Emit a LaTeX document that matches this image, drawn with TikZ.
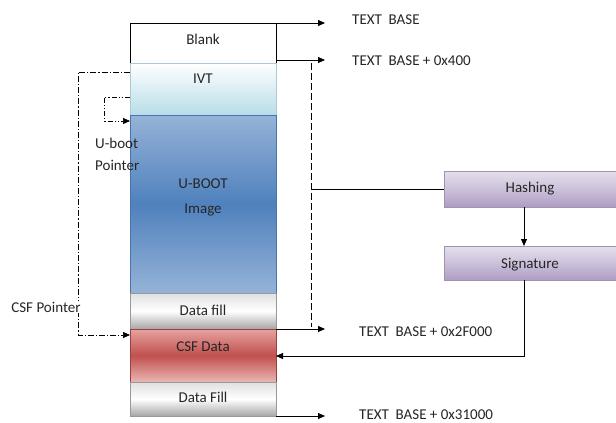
\documentclass[tikz,border=0pt]{standalone}
\usepackage{fontspec}
\setmainfont{Carlito}
\usetikzlibrary{arrows.meta}
\definecolor{txt}{HTML}{262626}
\definecolor{ivtb}{HTML}{B7DDE8}
\definecolor{bluel}{HTML}{95B3D7}
\definecolor{blued}{HTML}{4F81BD}
\definecolor{redl}{HTML}{E6A3A1}
\definecolor{redd}{HTML}{C0504D}
\definecolor{purl}{HTML}{E4DFEC}
\definecolor{purm}{HTML}{CCC1DA}
\definecolor{purd}{HTML}{AE9CC4}
\begin{document}
\begin{tikzpicture}[x=1pt,y=-1pt,
  font=\fontsize{15}{17}\selectfont, text=txt,
  blk/.style={draw=#1, line width=0.8pt, minimum width=146pt, inner sep=0pt, outer sep=0pt, anchor=north west},
  lab/.style={inner sep=0pt, anchor=base},
  prc/.style={draw=purd!70!gray, line width=0.6pt, top color=purl, bottom color=purd, middle color=purm, minimum width=172pt, inner sep=0pt, outer sep=0pt, anchor=north west},
  grayfill/.style={top color=gray!25, bottom color=gray!70, middle color=white},
  conn/.style={line width=0.8pt, draw=black},
  tip/.style={-{Triangle[length=7pt,width=6pt]}},
  addr/.style={inner sep=0pt, anchor=west}
]
\useasboundingbox (0,0) rectangle (616,423);
\fill[white] (0,0) rectangle (616,423);

% memory stack
\node[blk=black, fill=white, minimum height=40pt] (blank) at (130,23) {};
\node[blk=ivtb!80!gray, top color=white, bottom color=ivtb, minimum height=52pt] (ivt) at (130,63) {};
\node[blk=blued!90!black, top color=bluel, bottom color=bluel, middle color=blued, minimum height=178pt] (uboot) at (130,115) {};
\node[blk=gray!80, grayfill, minimum height=36pt] (dfill) at (130,293) {};
\node[blk=redd!80!black, top color=redl, bottom color=redl!80!white, middle color=redd, minimum height=53pt] (csf) at (130,329) {};
\node[blk=gray!80, grayfill, minimum height=34pt] (dfill2) at (130,382) {};

\node[lab] at (203,44) {Blank};
\node[lab] at (203,83) {IVT};
\node[lab] at (203,188) {U-BOOT};
\node[lab] at (203,213) {Image};
\node[lab] at (203,315) {Data fill};
\node[lab] at (203,351) {CSF Data};
\node[lab] at (203,402) {Data Fill};

% process boxes
\node[prc, minimum height=36pt] (hash) at (444,171) {};
\node[prc, minimum height=34pt] (sig) at (444,246) {};
\node[lab] at (530,192) {Hashing};
\node[lab] at (530,268) {Signature};

% address arrows
\coordinate (a1) at (325,23);
\coordinate (a2) at (325,60);
\coordinate (a3) at (325,329);
\coordinate (a4) at (325,416);
\draw[conn,tip] (blank.north east) -- (a1);
\draw[conn,tip] (blank.north east) -- (276,60) -- (a2);
\draw[conn,tip] (dfill.south east) -- (a3);
\draw[conn,tip] (dfill2.south east) -- (a4);
\node[addr] (t1) at (352,20) {TEXT\ \ BASE};
\node[addr] (t2) at (352,61) {TEXT\ \ BASE + 0x400};
\node[addr] (t3) at (359,332) {TEXT\ \ BASE + 0x2F000};
\node[addr] (t4) at (359,415) {TEXT\ \ BASE + 0x31000};

% hashing region
\coordinate (d1) at (311,63);
\coordinate (d2) at (311,327);
\coordinate (dh) at (311,189);
\draw[conn, dash pattern=on 7pt off 3pt] (d1) -- (d2);
\draw[conn] (dh) -- (hash.west);
\coordinate (hb) at (524,207);
\coordinate (st) at (524,246);
\draw[conn,tip] (hb) -- (st);
\coordinate (sb) at (524,280);
\draw[conn,tip] (sb) -- (524,356) -- (csf.east |- 0,356);

% left pointers
\coordinate (c1) at (130,72);
\coordinate (c2) at (130,335);
\draw[conn, line width=0.7pt, dash pattern=on 6pt off 2pt on 1.2pt off 2pt, tip] (c1) -- (78,72) -- (78,335) -- (c2);
\node[fill=white, inner sep=1pt] (csfp) at (46,307) {CSF Pointer};

\coordinate (u1) at (130,97);
\coordinate (u2) at (130,121);
\draw[conn, line width=0.7pt, dash pattern=on 5pt off 2pt on 1.2pt off 2pt on 1.2pt off 2pt, tip] (u1) -- (104,97) -- (104,121) -- (u2);
\node[lab, anchor=base west] (ubp1) at (95,148) {U-boot};
\node[lab, anchor=base west] (ubp2) at (95,170) {Pointer};
\end{tikzpicture}
\end{document}
